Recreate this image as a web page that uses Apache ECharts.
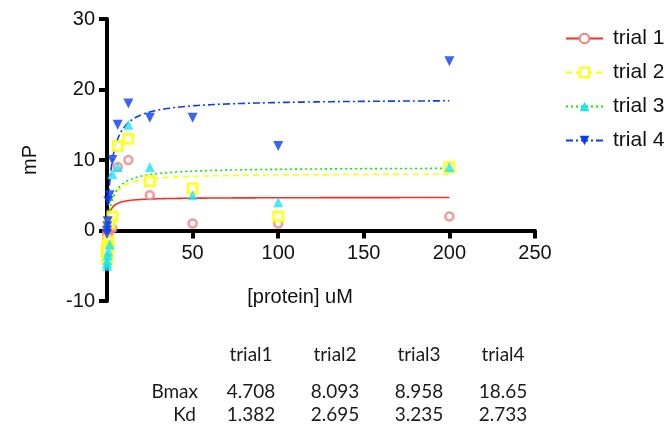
<!DOCTYPE html>
<html><head><meta charset="utf-8">
<script src="https://cdn.jsdelivr.net/npm/echarts@6/dist/echarts.min.js"></script>
<style>html,body{margin:0;padding:0;background:#fff}#c{width:671px;height:428px}</style>
</head><body><div id="c"></div>
<script>
// Concentrations (uM)
var conc = [200, 100, 50, 25, 12.5, 6.25, 3.125, 1.5625, 0.78125, 0.390625, 0.1953, 0.0977, 0];
// mP readings per trial
var trial1 = [2, 1, 1, 5, 10, 9, 0.3, 0.5, -0.3, -0.8, -1.2, 0.2, -0.5];
var trial2 = [9, 2, 6, 7, 13, 12, 2, 1, -1.5, -2.2, -2.5, -4, -3];
var trial3 = [9, 4, 5, 9, 15, 9, 8, -2, -3, -3.5, -4.2, -5, -4.6];
var trial4 = [24, 12, 16, 16, 18, 15, 10, 5, 4.2, 1.3, 0.6, 0, -0.5];
// Fit parameters (one-site binding)
var trialNames = ['trial 1', 'trial 2', 'trial 3', 'trial 4'];
var tableHeads = ['trial1', 'trial2', 'trial3', 'trial4'];
var rowLabels = ['Bmax', 'Kd'];
var bmax = [4.708, 8.093, 8.958, 18.65];
var kd = [1.382, 2.695, 3.235, 2.733];
var xTicks = [0, 50, 100, 150, 200, 250];
var yTicks = [-10, 0, 10, 20, 30];

var trials = [trial1, trial2, trial3, trial4];
var lineColors = ['#ff2b1c', '#ffff00', '#00ee00', '#0a3cff'];
var markColors = ['#f08080', '#ffff00', '#19e6f0', '#0a3cf0'];
var lineTypes = ['solid', [6, 4], [2, 3], [7, 3, 2, 3]];
var symbols = ['circle', 'rect', 'triangle', 'triangle'];
var rot = [0, 0, 0, 180];
var markStyle = [
  {color: '#fff', borderColor: markColors[0], borderWidth: 2.5},
  {color: '#fff', borderColor: markColors[1], borderWidth: 3},
  {color: markColors[2]},
  {color: markColors[3]}
];

// x grid for fitted curves
var fitX = [];
for (var i = 0; i <= 40; i++) fitX.push(i * 0.25);
for (var v = 10.5; v <= 200; v += 0.5) fitX.push(v);

var series = [];
for (var t = 0; t < 4; t++) {
  var fit = fitX.map(function (x) { return [x, bmax[t] * x / (kd[t] + x)]; });
  series.push({
    name: trialNames[t], type: 'line', data: fit, showSymbol: false,
    symbol: symbols[t], symbolRotate: rot[t], symbolSize: 9,
    itemStyle: markStyle[t],
    lineStyle: {color: lineColors[t], width: 1.6, type: lineTypes[t]},
    z: 3, silent: true
  });
}
for (var t2 = 0; t2 < 4; t2++) {
  series.push({
    name: trialNames[t2], type: 'scatter',
    data: conc.map(function (c, k) { return [c, trials[t2][k]]; }),
    symbol: symbols[t2], symbolRotate: rot[t2],
    symbolSize: t2 === 0 ? 8 : (t2 === 1 ? 9 : 10),
    itemStyle: markStyle[t2], z: 4
  });
}

var graphics = [];
var colX = [251, 335, 419, 503];
var tFont = '19px Lato';
for (var j = 0; j < 4; j++) {
  graphics.push({type: 'text', x: colX[j], y: 355, style: {text: tableHeads[j], textAlign: 'center', textVerticalAlign: 'middle', font: tFont, fill: '#1a1a1a'}});
  graphics.push({type: 'text', x: colX[j], y: 392, style: {text: String(bmax[j]), textAlign: 'center', textVerticalAlign: 'middle', font: tFont, fill: '#1a1a1a'}});
  graphics.push({type: 'text', x: colX[j], y: 415, style: {text: String(kd[j]), textAlign: 'center', textVerticalAlign: 'middle', font: tFont, fill: '#1a1a1a'}});
}
graphics.push({type: 'text', x: 198, y: 392, style: {text: rowLabels[0], textAlign: 'right', textVerticalAlign: 'middle', font: tFont, fill: '#1a1a1a'}});
graphics.push({type: 'text', x: 196, y: 415, style: {text: rowLabels[1], textAlign: 'right', textVerticalAlign: 'middle', font: tFont, fill: '#1a1a1a'}});

var chart = echarts.init(document.getElementById('c'));
chart.setOption({
  animation: false,
  textStyle: {fontFamily: 'Liberation Sans'},
  grid: {left: 107, right: 136, top: 19, bottom: 127},
  legend: {
    orient: 'vertical', left: 560, top: 23, itemWidth: 37, itemHeight: 12, itemGap: 13,
    data: trialNames,
    textStyle: {fontSize: 21, color: '#111', fontFamily: 'Liberation Sans', padding: [0, 0, 0, 5]}
  },
  xAxis: {
    type: 'value', min: xTicks[0], max: xTicks[xTicks.length - 1], interval: 50,
    name: '[protein] uM', nameLocation: 'middle', nameGap: -14,
    nameTextStyle: {fontSize: 20, color: '#111', padding: [0, 42, 0, 0]},
    axisLine: {onZero: true, lineStyle: {color: '#000', width: 4}},
    axisTick: {length: 8, lineStyle: {width: 4, color: '#000'}},
    axisLabel: {fontSize: 20, color: '#111', margin: -58, formatter: function (v) { return v === 0 ? '' : v; }},
    splitLine: {show: false}
  },
  yAxis: {
    type: 'value', min: yTicks[0], max: yTicks[yTicks.length - 1], interval: 10,
    name: 'mP', nameLocation: 'middle', nameGap: 67, nameRotate: 90,
    nameTextStyle: {fontSize: 20, color: '#111'},
    axisLine: {show: true, onZero: false, lineStyle: {color: '#000', width: 4}},
    axisTick: {show: true, length: 8, lineStyle: {width: 4, color: '#000'}},
    axisLabel: {fontSize: 20, color: '#111', margin: 12},
    splitLine: {show: false}
  },
  series: series,
  graphic: graphics
});
</script></body></html>
